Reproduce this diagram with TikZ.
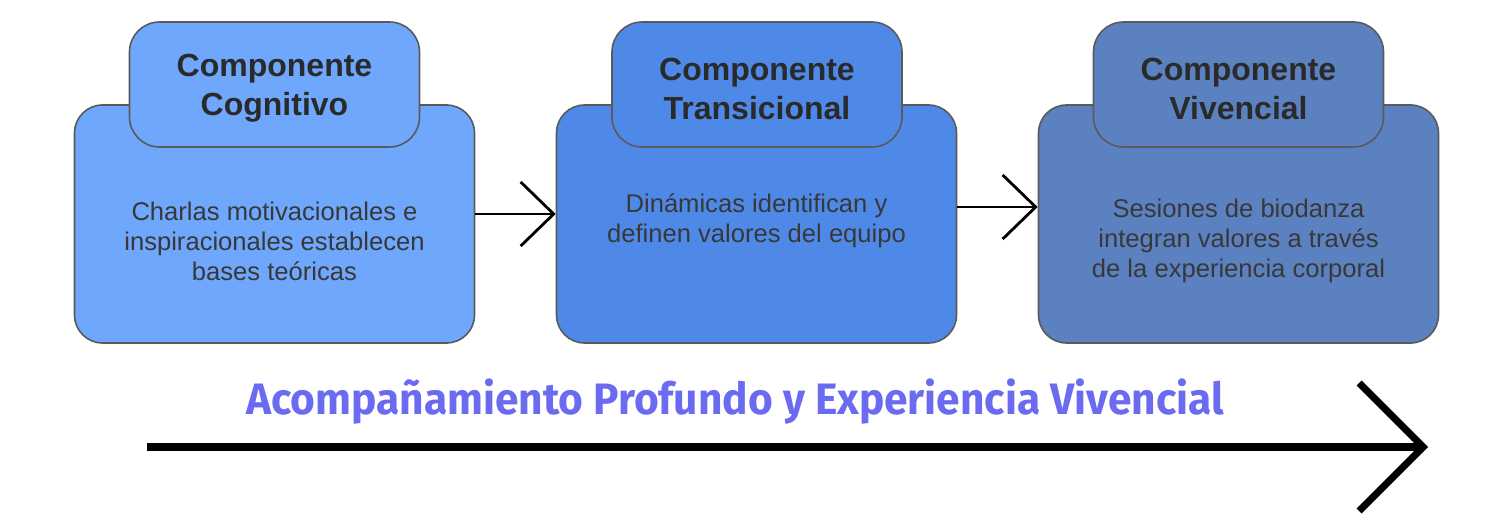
\documentclass[tikz,border=0pt]{standalone}
\usepackage{fontspec}
\setmainfont{Liberation Sans}
\newfontfamily\titlefont[FakeStretch=0.965]{Fira Sans}
\usetikzlibrary{arrows.meta}
\definecolor{cA}{HTML}{6EA7FB}
\definecolor{cB}{HTML}{4E89E8}
\definecolor{cC}{HTML}{5B81C1}
\definecolor{bordergray}{HTML}{5A5A5A}
\definecolor{headtext}{HTML}{2A2A2A}
\definecolor{bodytext}{HTML}{383838}
\definecolor{titlecol}{HTML}{6B6BF2}
\begin{document}
\begin{tikzpicture}[x=1pt,y=-1pt]
\useasboundingbox (0,0) rectangle (1500,529);
\tikzset{
 bigbox/.style={draw=bordergray, line width=1.6pt, rounded corners=28pt, minimum width=400pt, minimum height=238pt, inner sep=0pt},
 headbox/.style={draw=bordergray, line width=1.6pt, rounded corners=30pt, minimum width=290pt, minimum height=125pt, inner sep=0pt},
 headlabel/.style={align=center, font=\fontsize{32}{39}\selectfont\bfseries, text=headtext, yshift=-4pt},
 body/.style={align=center, font=\fontsize{25.6}{30}\selectfont, text=bodytext},
 conn/.style={line width=2.8pt, -{Straight Barb[length=33pt,width=64pt,line width=2.8pt]}},
 bigarrow/.style={line width=8pt, -{Straight Barb[length=64pt,width=128pt,line width=7pt]}},
}
% boxes
\node[bigbox, fill=cA] (b1) at (274.5,224) {};
\node[headbox, fill=cA] (h1) at (274.5,84.5) {};
\node[headlabel] (l1) at (h1.center) {Componente\\Cognitivo};
\node[body] (t1) at (274.5,241) {Charlas motivacionales e\\inspiracionales establecen\\bases teóricas};

\node[bigbox, fill=cB] (b2) at (756.5,224) {};
\node[headbox, fill=cB] (h2) at (757,84.5) {};
\node[headlabel] (l2) at (h2.center) {Componente\\Transicional};
\node[body] (t2) at (756.5,221) {Dinámicas identifican y\\definen valores del equipo};

\node[bigbox, fill=cC] (b3) at (1238.5,224) {};
\node[headbox, fill=cC] (h3) at (1238.5,84.5) {};
\node[headlabel] (l3) at (h3.center) {Componente\\Vivencial};
\node[body] (t3) at (1238.5,241) {Sesiones de biodanza\\integran valores a través\\de la experiencia corporal};

% connectors
\draw[conn] (b1.east |- 0,214) -- (b2.west |- 0,214);
\draw[conn] (b2.east |- 0,207) -- (b3.west |- 0,207);

% title and long arrow
\node[font=\titlefont\bfseries\fontsize{44}{50}\selectfont, text=titlecol] (title) at (735,402) {Acompañamiento Profundo y Experiencia Vivencial};
\coordinate (s) at (147,447);
\coordinate (e) at (1428,447);
\draw[bigarrow] (s) -- (e);
\end{tikzpicture}
\end{document}
